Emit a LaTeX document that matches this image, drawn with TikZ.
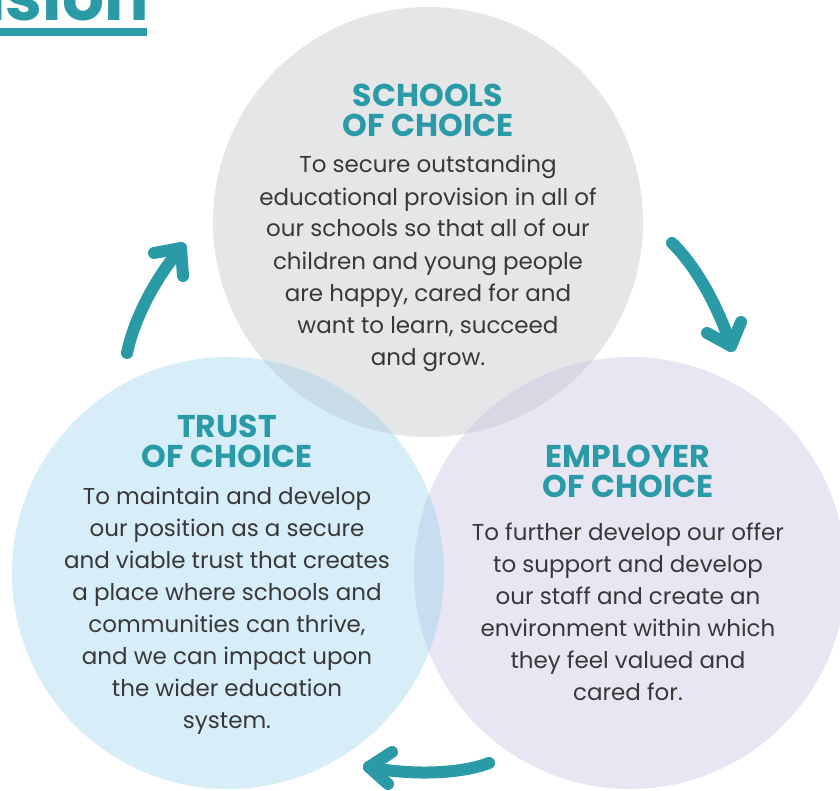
\documentclass[tikz,border=0pt]{standalone}
\usepackage{fontspec}
\setmainfont{Poppins}
\definecolor{tealc}{HTML}{2A9AA7}
\definecolor{greyc}{HTML}{E5E6E8}
\definecolor{bluec}{HTML}{D7EEF9}
\definecolor{lavc}{HTML}{E8E6F3}
\definecolor{gbc}{HTML}{C8DCE7}
\definecolor{glc}{HTML}{D8D8E4}
\definecolor{blc}{HTML}{C8DEF0}
\definecolor{bodyc}{HTML}{383838}
\tikzset{
  headtxt/.style={text=tealc, font=\fontsize{31.5}{30}\selectfont\bfseries, align=center, inner sep=0pt, anchor=base},
  bodytxt/.style={text=bodyc, font=\fontsize{23}{32}\selectfont, align=center, inner sep=0pt, anchor=base},
  arrowline/.style={draw=tealc, line width=12pt, line cap=round, line join=round}
}
\begin{document}
\begin{tikzpicture}[x=1pt,y=-1pt]
\useasboundingbox (0,0) rectangle (840,791);
\clip (0,0) rectangle (840,791);
% circles
\coordinate (cs) at (428,222);
\coordinate (ct) at (228,573);
\coordinate (ce) at (630,573);
\fill[greyc] (cs) circle (215);
\fill[bluec] (ct) circle (216);
\fill[lavc] (ce) circle (216);
\begin{scope}
  \clip (cs) circle (215);
  \fill[gbc] (ct) circle (216);
  \fill[glc] (ce) circle (216);
\end{scope}
\begin{scope}
  \clip (ct) circle (216);
  \fill[blc] (ce) circle (216);
\end{scope}
% title remnant
\node[text=tealc, font=\fontsize{66}{66}\selectfont\bfseries, inner sep=0pt, anchor=base east] (title) at (149,21) {Vision};
\fill[tealc] (0,28) rectangle (147,36);
% texts (anchor base = baseline of last line)
\node[headtxt] (hs) at (428,137) {SCHOOLS\\OF CHOICE};
\node[bodytxt] (bs) at (428,365) {To secure outstanding\\educational provision in all of\\our schools so that all of our\\children and young people\\are happy, cared for and\\want to learn, succeed\\and grow.};
\node[headtxt] (ht) at (227,467) {TRUST\\OF CHOICE};
\node[bodytxt] (bt) at (227,728) {To maintain and develop\\our position as a secure\\and viable trust that creates\\a place where schools and\\communities can thrive,\\and we can impact upon\\the wider education\\system.};
\node[headtxt] (he) at (628,497) {EMPLOYER\\OF CHOICE};
\node[bodytxt] (be) at (628,700) {To further develop our offer\\to support and develop\\our staff and create an\\environment within which\\they feel valued and\\cared for.};
% arrows
\coordinate (a1s) at (127,353);
\coordinate (a1t) at (181,248);
\coordinate (a1l) at (154,253);
\coordinate (a1r) at (183,276);
\draw[arrowline] (a1s) .. controls (135,315) and (158,275) .. (a1t);
\draw[arrowline] (a1l) -- (a1t) -- (a1r);
\coordinate (a2s) at (672,243);
\coordinate (a2t) at (731,346);
\coordinate (a2l) at (707,333);
\coordinate (a2r) at (741,322);
\draw[arrowline] (a2s) .. controls (692,262) and (716,300) .. (a2t);
\draw[arrowline] (a2l) -- (a2t) -- (a2r);
\coordinate (a3s) at (489,763);
\coordinate (a3t) at (369,767);
\coordinate (a3l) at (392,752);
\coordinate (a3r) at (388,784);
\draw[arrowline] (a3s) .. controls (455,776) and (400,774) .. (a3t);
\draw[arrowline] (a3l) -- (a3t) -- (a3r);
\end{tikzpicture}
\end{document}
